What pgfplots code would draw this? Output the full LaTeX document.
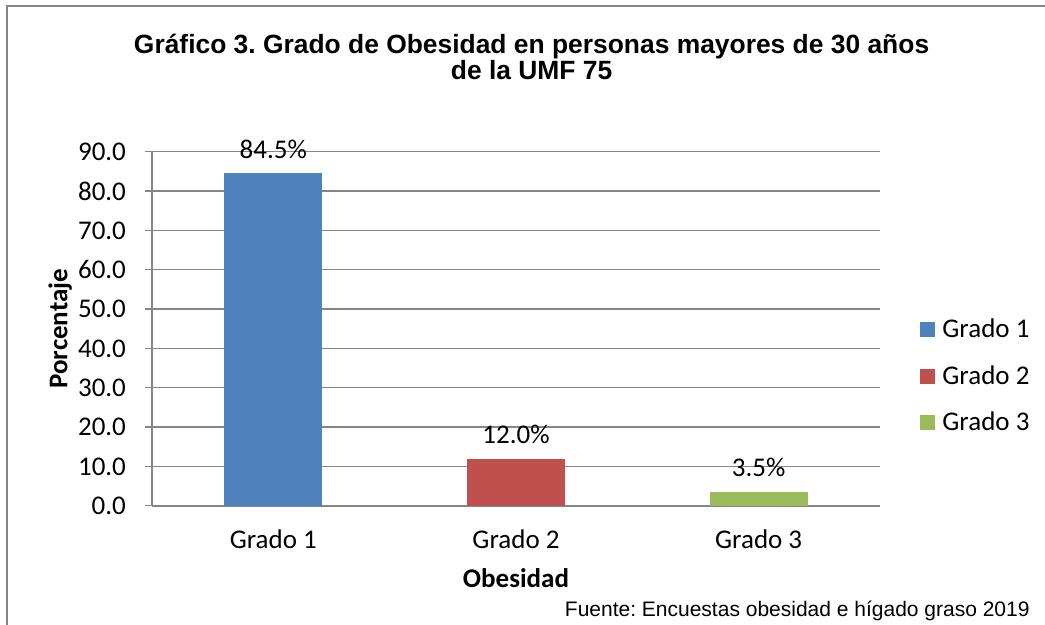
\documentclass[border=0pt]{standalone}
\usepackage{pgfplots}
\pgfplotsset{compat=1.18}
\usepackage{fontspec}
\setmainfont{Carlito}
\newfontfamily\arial{Liberation Sans}
\frenchspacing

\definecolor{g1}{HTML}{4F81BD}
\definecolor{g2}{HTML}{C0504D}
\definecolor{g3}{HTML}{9BBB59}
\definecolor{gridgray}{HTML}{868686}

\begin{document}
\begin{tikzpicture}
% page: 1045 x 625 px, 1 px = 0.5 pt
\useasboundingbox (0pt,0pt) rectangle (522.5pt,-312.5pt);
\draw[gridgray, line width=1pt] (3.5pt,-312.5pt) -- (3.5pt,-3pt) -- (522.5pt,-3pt);

\node[font=\arial\bfseries\fontsize{13.2}{13}\selectfont, align=center, anchor=center]
  at (265.8pt,-28.5pt) {Gráfico 3. Grado de Obesidad en personas mayores de 30 años\\de la UMF 75};

\node[font=\arial\fontsize{10.5}{12}\selectfont, anchor=base east, inner sep=0pt]
  at (515pt,-308.5pt) {Fuente: Encuestas obesidad e hígado graso 2019};

\begin{axis}[
  at={(76pt,-252.85pt)}, anchor=south west,
  scale only axis,
  width=364pt, height=177pt,
  ymin=0, ymax=90,
  ytick={0,10,...,90},
  xmin=-0.5, xmax=2.5,
  xtick={0,1,2},
  xticklabels={Grado 1, Grado 2, Grado 3},
  axis x line*=bottom,
  axis y line*=left,
  axis line style={gridgray, line width=1pt, -},
  ymajorgrids,
  major grid style={gridgray, line width=0.75pt},
  tick align=outside,
  major tick length=3.5pt,
  ytick style={gridgray, line width=0.75pt},
  xtick style={draw=none},
  /pgf/number format/assume math mode=true,
  yticklabel style={/pgf/number format/fixed, /pgf/number format/fixed zerofill,
    /pgf/number format/precision=1, xshift=-6pt},
  ticklabel style={font=\fontsize{13.5}{15}\selectfont},
  xticklabel style={yshift=-5pt},
  xlabel={\textbf{Obesidad}},
  ylabel={\textbf{Porcentaje}},
  label style={font=\fontsize{13.5}{15}\selectfont},
  xlabel style={at={(axis description cs:0.5,-0.204)}, anchor=center},
  ylabel style={at={(axis description cs:-0.126,0.5)}, anchor=center},
  ybar, bar shift=0pt, bar width=0.404,
  nodes near coords={\pgfmathprintnumber[fixed, fixed zerofill, precision=1]{\pgfplotspointmeta}\%},
  nodes near coords style={font=\fontsize{13.5}{15}\selectfont, yshift=4pt},
  legend style={at={(1.055,0.366)}, anchor=west, draw=none, fill=none,
    font=\fontsize{13.5}{15}\selectfont, row sep=10.5pt, inner sep=0pt,
    nodes={inner sep=1pt}},
  legend cell align=left,
  legend image code/.code={\fill[#1, draw=none] (0pt,-3.75pt) rectangle (7.5pt,3.75pt);
    \path (10pt,0pt);},
]
\addplot[fill=g1, draw=none] coordinates {(0,84.5)};
\addplot[fill=g2, draw=none] coordinates {(1,12.0)};
\addplot[fill=g3, draw=none] coordinates {(2,3.5)};
\legend{Grado 1, Grado 2, Grado 3}
\end{axis}
\end{tikzpicture}
\end{document}
